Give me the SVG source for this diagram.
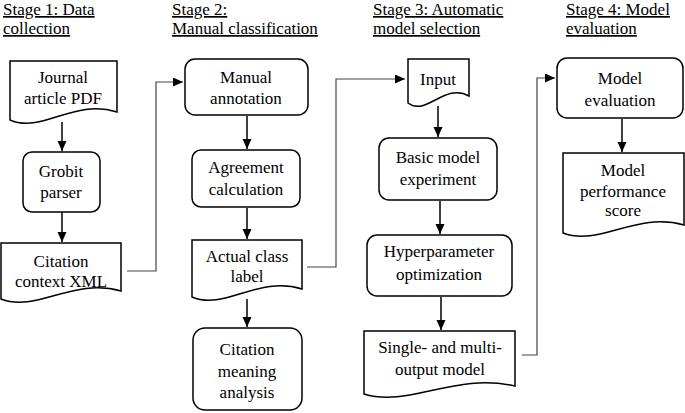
<svg xmlns="http://www.w3.org/2000/svg" width="685" height="413" viewBox="0 0 685 413">
<style>
text{font-family:"Liberation Serif",Tinos,"Noto Serif","Nimbus Roman","Nimbus Roman No9 L",FreeSerif,"Times New Roman",Times,Georgia,"DejaVu Serif",serif;font-size:17px;fill:#000}
.h{text-decoration:underline}
.t{text-anchor:middle}
.n{fill:#fff;stroke:#000;stroke-width:1.5}
.a{fill:none;stroke:#000;stroke-width:1.5}
.c{fill:none;stroke:#444;stroke-width:1.2}
</style>
<defs>
<marker id="ar" markerUnits="userSpaceOnUse" markerWidth="10" markerHeight="10" refX="10" refY="4.5" orient="auto">
<path d="M0,0 L10,4.5 L0,9 z" fill="#000"/>
</marker>
</defs>
<rect width="685" height="413" fill="#fff"/>
<g id="headings">
<text class="h" x="3" y="15">Stage 1: Data</text>
<text class="h" x="3" y="34">collection</text>
<text class="h" x="172" y="15">Stage 2:</text>
<text class="h" x="172" y="34">Manual classification</text>
<text class="h" x="373" y="15">Stage 3: Automatic</text>
<text class="h" x="373" y="34">model selection</text>
<text class="h" x="566" y="15">Stage 4: Model</text>
<text class="h" x="566" y="34">evaluation</text>
</g>
<g id="connectors">
<path class="a" d="M62,122 V151" marker-end="url(#ar)"/>
<path class="a" d="M62,212 V242" marker-end="url(#ar)"/>
<path class="a" d="M247,116 V149" marker-end="url(#ar)"/>
<path class="a" d="M247,208 V239" marker-end="url(#ar)"/>
<path class="a" d="M247,299 V327" marker-end="url(#ar)"/>
<path class="a" d="M438,106 V137" marker-end="url(#ar)"/>
<path class="a" d="M440,201 V234" marker-end="url(#ar)"/>
<path class="a" d="M441,297 V330" marker-end="url(#ar)"/>
<path class="a" d="M622,119 V152" marker-end="url(#ar)"/>
<path class="c" d="M127,271 H156 V82 H183" marker-end="url(#ar)"/>
<path class="c" d="M307,267 H336 V79 H405" marker-end="url(#ar)"/>
<path class="c" d="M522,355 H537 V78 H555" marker-end="url(#ar)"/>
</g>
<g id="journal">
<path class="n" d="M10,61 H117 V112 C74,98 42,134 10,120 Z"/>
<text class="t" x="63" y="83">Journal</text>
<text class="t" x="63" y="104">article PDF</text>
</g>
<g id="grobit">
<rect class="n" x="23" y="152" width="77" height="60" rx="9"/>
<text class="t" x="61" y="177">Grobit</text>
<text class="t" x="61" y="198">parser</text>
</g>
<g id="citxml">
<path class="n" d="M1,243 H121 V291 C73,277 37,313 1,299 Z"/>
<text class="t" x="61" y="267">Citation</text>
<text class="t" x="61" y="287">context XML</text>
</g>
<g id="manual">
<rect class="n" x="185" y="59" width="123" height="56" rx="10"/>
<text class="t" x="246" y="83">Manual</text>
<text class="t" x="246" y="104">annotation</text>
</g>
<g id="agreement">
<rect class="n" x="192" y="150" width="108" height="57" rx="9"/>
<text class="t" x="246" y="173">Agreement</text>
<text class="t" x="246" y="195">calculation</text>
</g>
<g id="actual">
<path class="n" d="M192,240 H302 V289 C258,275 225,311 192,297 Z"/>
<text class="t" x="247" y="262">Actual class</text>
<text class="t" x="247" y="282">label</text>
</g>
<g id="meaning">
<rect class="n" x="193" y="328" width="109" height="82" rx="12"/>
<text class="t" x="247" y="355">Citation</text>
<text class="t" x="247" y="377">meaning</text>
<text class="t" x="247" y="398">analysis</text>
</g>
<g id="input">
<path class="n" d="M408,59 H469 V96 C445,82 426,117 408,103 Z"/>
<text class="t" x="438" y="85">Input</text>
</g>
<g id="basic">
<rect class="n" x="379" y="138" width="118" height="62" rx="10"/>
<text class="t" x="438" y="163">Basic model</text>
<text class="t" x="438" y="185">experiment</text>
</g>
<g id="hyper">
<rect class="n" x="367" y="235" width="145" height="61" rx="10"/>
<text class="t" x="439" y="257">Hyperparameter</text>
<text class="t" x="439" y="280">optimization</text>
</g>
<g id="single">
<path class="n" d="M364,331 H515 V386 C455,372 409,408 364,394 Z"/>
<text class="t" x="440" y="353">Single- and multi-</text>
<text class="t" x="440" y="375">output model</text>
</g>
<g id="modeleval">
<rect class="n" x="557" y="58" width="126" height="60" rx="10"/>
<text class="t" x="620" y="84">Model</text>
<text class="t" x="620" y="106">evaluation</text>
</g>
<g id="perf">
<path class="n" d="M563,153 H684 V225 C636,211 600,247 563,233 Z"/>
<text class="t" x="623" y="176">Model</text>
<text class="t" x="623" y="197">performance</text>
<text class="t" x="623" y="216">score</text>
</g>
</svg>
